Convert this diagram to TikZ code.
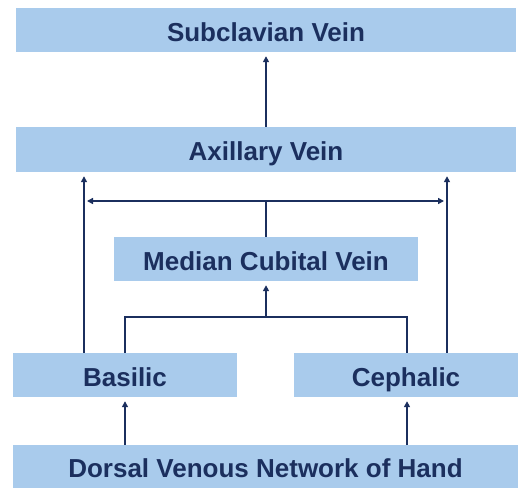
\documentclass[tikz,border=0pt]{standalone}
\usepackage{fontspec}
\setmainfont{Liberation Sans}
\usepackage{tikz}
\usetikzlibrary{positioning,arrows.meta}

\definecolor{veinfill}{HTML}{A9CBEC}
\definecolor{veinnavy}{HTML}{1B2F5E}

\begin{document}
\begin{tikzpicture}[x=1pt,y=-1pt,
        vein/.style={fill=veinfill, text=veinnavy, inner sep=0pt,
            font=\bfseries\fontsize{26}{30}\selectfont, minimum height=44pt,
            text height=22pt, text depth=0pt},
        pipe/.style={veinnavy, line width=1.8pt},
        flow/.style={pipe, -{Triangle[length=6pt,width=6pt]}, shorten >=4pt}]
        \useasboundingbox[fill=white] (0,0) rectangle (526,488);

        % boxes, top to bottom
        \node[vein, minimum width=500pt] (sub) at (266,30) {Subclavian Vein};
        \node[vein, minimum width=500pt, minimum height=45pt] (axi) at (266,149.5) {Axillary Vein};
        \node[vein, minimum width=304pt] (med) at (266,259) {Median Cubital Vein};
        \node[vein, minimum width=224pt] (bas) at (125,375) {Basilic};
        \node[vein, minimum width=224pt] (cep) at (406,375) {Cephalic};
        \node[vein, minimum width=505pt, minimum height=43pt] (dor) at (265.5,466.5) {Dorsal Venous Network of Hand};

        % junction points
        \coordinate (lft) at (84,201);
        \coordinate (rgt) at (447,201);
        \coordinate (mid) at (266,317);

        \draw[flow] (axi) -- (sub);

        \draw[flow] (bas.north -| lft) -- (axi.south -| lft);
        \draw[flow] (cep.north -| rgt) -- (axi.south -| rgt);
        \draw[pipe, {Triangle[length=6pt,width=6pt]}-{Triangle[length=6pt,width=6pt]},
            shorten <=3pt, shorten >=3pt] (lft) -- (rgt);
        \draw[pipe] (med.north) -- (med.north |- lft);

        \draw[pipe] (bas.north) |- (mid) -| (cep.north -| 407,0);
        \draw[flow] (mid) -- (med.south);

        \draw[flow] (dor.north -| bas) -- (bas.south);
        \draw[flow] (dor.north -| 407,0) -- (cep.south -| 407,0);
    \end{tikzpicture}
\end{document}
